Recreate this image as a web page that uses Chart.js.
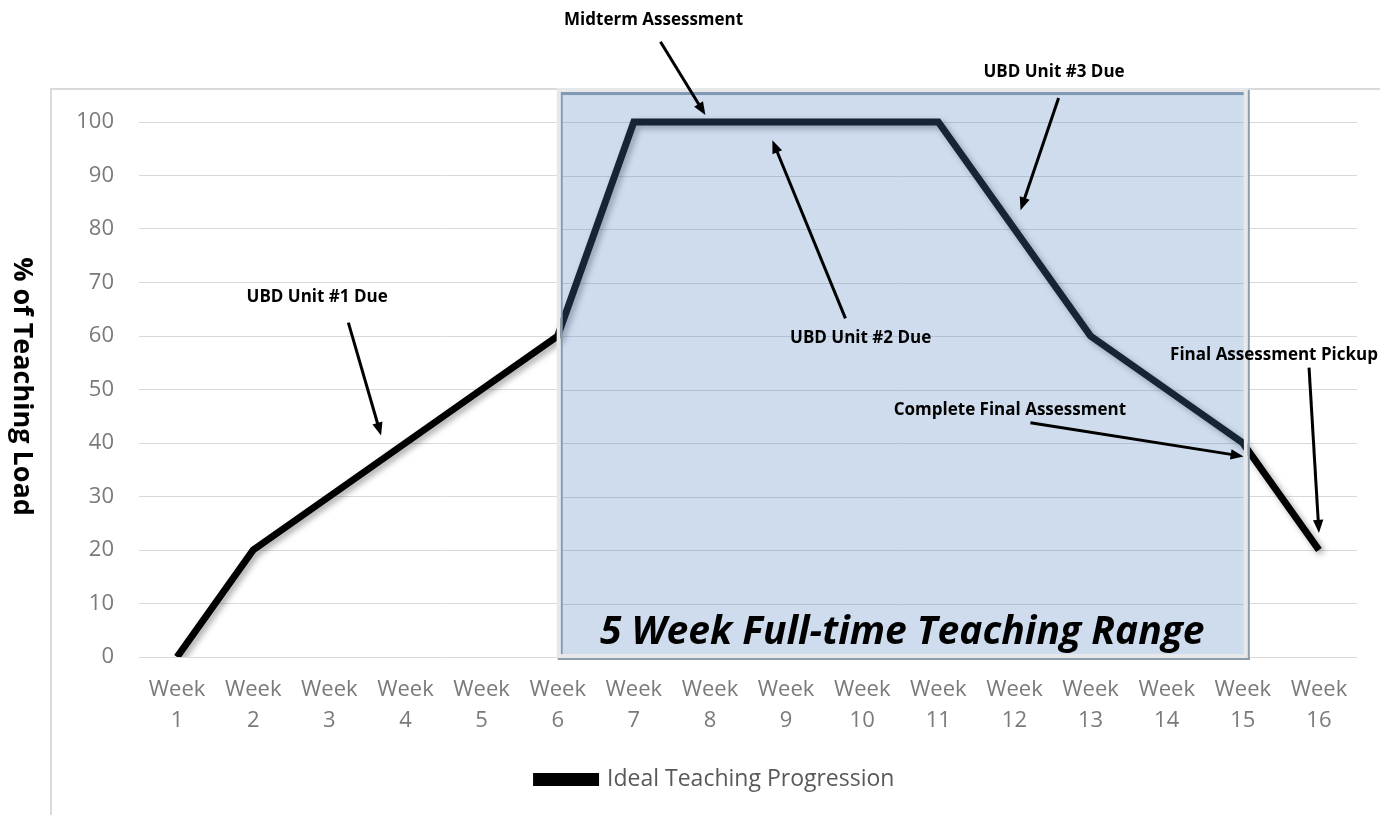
<!DOCTYPE html>
<html>
<head>
<meta charset="utf-8">
<script src="https://cdn.jsdelivr.net/npm/chart.js@4.4.1/dist/chart.umd.min.js"></script>
<style>
  html, body { margin: 0; padding: 0; background: #fff; }
  #wrap { position: relative; width: 1380px; height: 815px; overflow: hidden; }
  #frame { position: absolute; left: 50px; top: 88px; width: 1400px; height: 800px;
           border-left: 2px solid #dadada; border-top: 2px solid #dadada; }
  canvas { position: absolute; left: 0; top: 0; }
</style>
</head>
<body>
<div id="wrap">
  <div id="frame"></div>
  <canvas id="chart" width="1380" height="815"></canvas>
</div>
<script>
// Weeks and teaching load (%)
const weeks = ['1', '2', '3', '4', '5', '6', '7', '8', '9', '10', '11', '12', '13', '14', '15', '16'];
const loadValues = [0, 20, 30, 40, 50, 60, 100, 100, 100, 100, 100, 80, 60, 50, 40, 20];
const seriesName = 'Ideal Teaching Progression';
const yTitle = '% of Teaching Load';

// shaded full-time teaching range (week indexes)
const rangeWeeks = [5, 14];
const rangeLabel = '5 Week Full-time Teaching Range';

// callouts: text anchor and arrow (week index, load value)
const noteTexts = ['Midterm Assessment', 'UBD Unit #3 Due', 'UBD Unit #1 Due', 'UBD Unit #2 Due',
                   'Final Assessment Pickup', 'Complete Final Assessment'];
const noteAt = [[6.26, 119.1], [11.52, 109.4], [1.84, 67.2], [8.98, 59.6], [14.41, 56.4], [10.94, 46.1]];
const arrowFrom = [[6.35, 115.0], [11.58, 104.5], [2.25, 62.5], [8.78, 63.3], [14.87, 54.1], [11.21, 43.8]];
const arrowTo = [[6.94, 101.3], [11.08, 83.5], [2.68, 41.4], [7.82, 96.6], [15.0, 23.2], [14.01, 37.5]];

const FONT = "'Open Sans', 'DejaVu Sans', sans-serif";

function arrow(ctx, x1, y1, x2, y2) {
    const ang = Math.atan2(y2 - y1, x2 - x1);
    const head = 14;
    ctx.beginPath();
    ctx.moveTo(x1, y1);
    ctx.lineTo(x2 - Math.cos(ang) * head * 0.8, y2 - Math.sin(ang) * head * 0.8);
    ctx.stroke();
    ctx.beginPath();
    ctx.moveTo(x2, y2);
    ctx.lineTo(x2 - head * Math.cos(ang - 0.38), y2 - head * Math.sin(ang - 0.38));
    ctx.lineTo(x2 - head * Math.cos(ang + 0.38), y2 - head * Math.sin(ang + 0.38));
    ctx.closePath();
    ctx.fill();
}

const decorPlugin = {
    id: 'decor',
    beforeDatasetDraw(chart) {
        const ctx = chart.ctx;
        ctx.save();
        ctx.shadowColor = 'rgba(0,0,0,0.35)';
        ctx.shadowBlur = 6;
        ctx.shadowOffsetX = 3;
        ctx.shadowOffsetY = 3;
    },
    afterDatasetDraw(chart) {
        chart.ctx.restore();
    },
    afterDatasetsDraw(chart) {
        const ctx = chart.ctx;
        const xs = chart.scales.x, ys = chart.scales.y;
        const left = xs.getPixelForValue(rangeWeeks[0]) + 3;
        const right = xs.getPixelForValue(rangeWeeks[1]) + 1;
        const top = ys.getPixelForValue(105.6);
        const bottom = ys.getPixelForValue(0) - 3;

        ctx.save();
        // light outer frame
        ctx.fillStyle = '#e6e8ea';
        ctx.fillRect(left - 4, top - 4, right - left + 8, bottom - top + 8);
        ctx.fillStyle = '#8f9caa';
        ctx.fillRect(right + 4, top - 2, 2, bottom - top + 8);
        ctx.fillRect(left - 3, bottom + 4, right - left + 9, 2);
        ctx.restore();

        // redraw what's underneath, then tint
        ctx.save();
        ctx.beginPath();
        ctx.rect(left, top, right - left, bottom - top);
        ctx.clip();
        ctx.fillStyle = '#fff';
        ctx.fillRect(left, top, right - left, bottom - top);
        ys.ticks.forEach(t => {
            const py = Math.round(ys.getPixelForValue(t.value)) + 0.5;
            ctx.strokeStyle = '#d9d9d9';
            ctx.lineWidth = 1;
            ctx.beginPath();
            ctx.moveTo(left, py);
            ctx.lineTo(right, py);
            ctx.stroke();
        });
        const meta = chart.getDatasetMeta(0);
        ctx.shadowColor = 'rgba(0,0,0,0.35)';
        ctx.shadowBlur = 6;
        ctx.shadowOffsetX = 3;
        ctx.shadowOffsetY = 3;
        meta.dataset.draw(ctx, chart.chartArea);
        ctx.shadowColor = 'transparent';
        ctx.fillStyle = 'rgba(79,129,189,0.28)';
        ctx.fillRect(left, top, right - left, bottom - top);
        ctx.fillStyle = '#8198b3';
        ctx.fillRect(left, top, right - left, 3);
        ctx.fillRect(left, top, 2, bottom - top);
        ctx.restore();

        // range label
        ctx.save();
        ctx.fillStyle = '#000';
        ctx.font = 'italic 700 39px ' + FONT;
        ctx.textAlign = 'center';
        ctx.textBaseline = 'alphabetic';
        ctx.fillText(rangeLabel, (left + right) / 2, bottom - 10);
        ctx.restore();

        // callouts
        ctx.save();
        ctx.fillStyle = '#000';
        ctx.strokeStyle = '#000';
        ctx.lineWidth = 3;
        ctx.font = '700 17px ' + FONT;
        ctx.textAlign = 'center';
        ctx.textBaseline = 'middle';
        noteTexts.forEach((txt, i) => {
            ctx.fillText(txt, xs.getPixelForValue(noteAt[i][0]), ys.getPixelForValue(noteAt[i][1]));
            arrow(ctx,
                xs.getPixelForValue(arrowFrom[i][0]), ys.getPixelForValue(arrowFrom[i][1]),
                xs.getPixelForValue(arrowTo[i][0]), ys.getPixelForValue(arrowTo[i][1]));
        });
        ctx.restore();

        // y axis title, reading top to bottom
        ctx.save();
        ctx.translate(22, (chart.chartArea.top + chart.chartArea.bottom) / 2 - 3);
        ctx.rotate(Math.PI / 2);
        ctx.fillStyle = '#000';
        ctx.font = '700 27px ' + FONT;
        ctx.textAlign = 'center';
        ctx.textBaseline = 'middle';
        ctx.fillText(yTitle, 0, 0);
        ctx.restore();
    }
};

new Chart(document.getElementById('chart'), {
    type: 'line',
    data: {
        labels: weeks,
        datasets: [{
            label: seriesName,
            data: loadValues,
            borderColor: '#000',
            backgroundColor: '#000',
            borderWidth: 7,
            borderJoinStyle: 'miter',
            borderCapStyle: 'butt',
            pointRadius: 0,
            tension: 0,
        }]
    },
    options: {
        responsive: false,
        animation: false,
        events: [],
        layout: { padding: { top: 122, right: 23, left: 74, bottom: 14 } },
        plugins: {
            legend: {
                display: true,
                position: 'bottom',
                labels: {
                    boxWidth: 59,
                    boxHeight: 6,
                    color: '#595959',
                    font: { family: FONT, size: 23 },
                    padding: 10,
                }
            },
            tooltip: { enabled: false }
        },
        scales: {
            x: {
                offset: true,
                grid: { display: false, drawTicks: false },
                border: { display: false },
                ticks: {
                    color: '#7a7a7a',
                    font: { family: FONT, size: 22, lineHeight: 1.38 },
                    padding: 18,
                    autoSkip: false,
                    maxRotation: 0,
                    callback: (v, i) => ['Week', weeks[i]]
                },
                afterFit: s => { s.height = 101; }
            },
            y: {
                min: 0,
                max: 100,
                grid: { color: '#d9d9d9', drawTicks: false },
                border: { display: false },
                ticks: {
                    stepSize: 10,
                    color: '#7a7a7a',
                    font: { family: FONT, size: 22 },
                    padding: 25,
                },
                afterFit: s => { s.width = 65; }
            }
        }
    },
    plugins: [decorPlugin]
});
</script>
</body>
</html>
